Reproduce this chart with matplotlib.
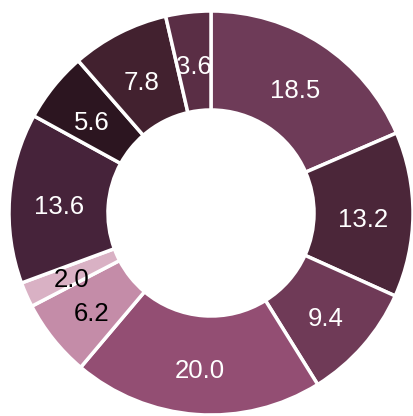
import matplotlib
matplotlib.use("Agg")
import matplotlib.pyplot as plt

valores = [18.5, 13.2, 9.4, 20.0, 6.2, 2.0, 13.6, 5.6, 7.8, 3.6]
colores = ['#6e3b58', '#4b2639', '#6f3a57', '#934e73', '#c48ca8',
           '#d9b1c4', '#46233a', '#2c1520', '#42212f', '#5a2e45']
color_texto = ['white', 'white', 'white', 'white', 'black',
               'black', 'white', 'white', 'white', 'white']

plt.rcParams['font.family'] = ['Liberation Sans', 'DejaVu Sans']

W, H = 414, 416
fig = plt.figure(figsize=(W / 100, H / 100), dpi=100, facecolor='white')
cx, cy, r = 211, 213, 202
ax = fig.add_axes([(cx - r) / W, (H - cy - r) / H, 2 * r / W, 2 * r / H])

wedges, textos = ax.pie(valores, colors=colores, startangle=90, counterclock=False,
                        radius=1, labels=[f"{v:.1f}" for v in valores],
                        labeldistance=0.755,
                        wedgeprops=dict(width=0.49, edgecolor='white', linewidth=2.5),
                        textprops=dict(fontsize=18.5))
for t, c in zip(textos, color_texto):
    t.set_color(c)
    t.set_horizontalalignment('center')
    t.set_verticalalignment('center_baseline')
    x, y = t.get_position()
    t.set_position((x, y - 0.015))
for w in wedges:
    w.set_clip_on(False)

ax.set_xlim(-1, 1)
ax.set_ylim(-1, 1)
ax.set_aspect('equal')
ax.axis('off')

fig.savefig("out.png", dpi=100)
